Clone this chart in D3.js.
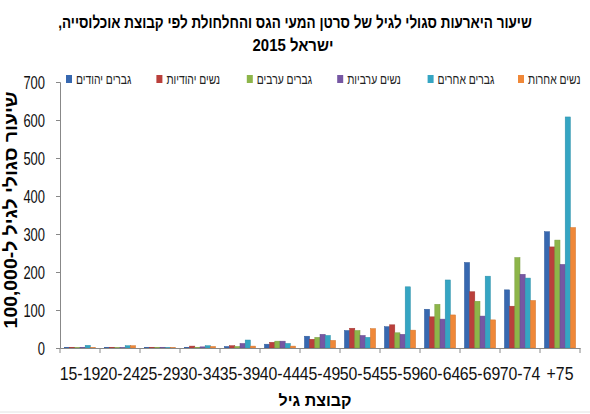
<!DOCTYPE html>
<html><head><meta charset="utf-8">
<script src="https://cdn.jsdelivr.net/npm/d3@7"></script>
<style>body{margin:0;background:#fff} svg{display:block}</style>
</head><body><svg id="c" width="590" height="414"></svg>
<script>
const categories = ["15-19","20-24","25-29","30-34","35-39","40-44","45-49","50-54","55-59","60-64","65-69","70-74","+75"];
const seriesNames = ["גברים יהודים","נשים יהודיות","גברים ערבים","נשים ערביות","גברים אחרים","נשים אחרות"];
const seriesColors = ["#3768B0","#BA3F3B","#8DB54A","#7657A3","#35A5C3","#F08838"];
const jewishMen   = [2,2,2,2,4,10,31,46,56,102,225,153,306];
const jewishWomen = [2,2,2,5,6,15,23,52,61,82,148,110,266];
const arabMen     = [1,1,2,2,4,18,28,46,40,115,123,238,284];
const arabWomen   = [2,1,2,3,12,18,36,33,36,76,84,194,220];
const otherMen    = [7,6,1,6,21,12,33,28,161,179,189,184,608];
const otherWomen  = [1,6,1,4,5,5,20,51,47,87,74,125,317];
const yTicks = [0,100,200,300,400,500,600,700];
const titleLines = ["שיעור היארעות סגולי לגיל של סרטן המעי הגס והחלחולת לפי קבוצת אוכלוסייה,","ישראל 2015"];
const yTitle = "שיעור סגולי לגיל ל-100,000";
const xTitle = "קבוצת גיל";

const seriesValues = [jewishMen, jewishWomen, arabMen, arabWomen, otherMen, otherWomen];
const svg = d3.select("#c");
const mLeft = 60, mRight = 580, mTop = 82, mBottom = 348;

const x0 = d3.scaleBand().domain(categories).range([mLeft, mRight]).padding(0);
const x1 = d3.scaleBand().domain(d3.range(seriesNames.length)).range([0, x0.bandwidth()]).paddingInner(0).paddingOuter(0.85);
const y = d3.scaleLinear().domain([0, 700]).range([mBottom, mTop]);

// fit a text to a target width with a horizontal scale
function fitText(sel, cx, cy, target, rotate) {
  const len = sel.node().getComputedTextLength();
  const s = target / len;
  sel.attr("transform", `translate(${cx},${cy})${rotate ? " rotate(-90)" : ""} scale(${s},1)`);
}

// title
const t1 = svg.append("text").attr("text-anchor","middle").attr("direction","rtl")
  .attr("font-family","Liberation Sans, Arial, sans-serif").attr("font-weight","bold").attr("font-size",17)
  .text(titleLines[0]);
fitText(t1, 295, 28, 474);
const t2 = svg.append("text").attr("text-anchor","middle").attr("direction","rtl")
  .attr("font-family","Liberation Sans, Arial, sans-serif").attr("font-weight","bold").attr("font-size",17)
  .text(titleLines[1]);
fitText(t2, 293, 51, 81);

// bars
const groups = svg.append("g").selectAll("g").data(categories).join("g")
  .attr("transform", d => `translate(${x0(d)},0)`);
groups.selectAll("rect").data((c, ci) => seriesValues.map((s, si) => ({si, v: s[ci]}))).join("rect")
  .attr("x", d => x1(d.si)).attr("width", x1.bandwidth())
  .attr("y", d => y(d.v)).attr("height", d => y(0) - y(d.v))
  .attr("fill", d => seriesColors[d.si])
  .attr("stroke", d => d3.color(seriesColors[d.si]).darker(0.4)).attr("stroke-width",0.5);

// y axis
const ya = svg.append("g").attr("transform",`translate(${mLeft},0)`)
  .call(d3.axisLeft(y).tickValues(yTicks).tickSize(4).tickFormat(d3.format("d")));
ya.select(".domain").attr("stroke","#888");
ya.selectAll(".tick line").attr("stroke","#888");
ya.selectAll(".tick text").attr("x",null).attr("dy",null).attr("dominant-baseline","central")
  .attr("font-family","Liberation Sans, Arial, sans-serif").attr("font-size",18).attr("fill","#111")
  .attr("transform","translate(-15,0) scale(0.72,1)");

// x axis
const xa = svg.append("g").attr("transform",`translate(0,${mBottom})`)
  .call(d3.axisBottom(x0).tickSize(0).tickPadding(0));
xa.select(".domain").attr("stroke","#888");
xa.selectAll(".tick text").attr("y",null).attr("dy",null)
  .attr("font-family","Liberation Sans, Arial, sans-serif").attr("font-size",18).attr("fill","#111")
  .attr("transform","translate(0,32) scale(0.88,1)");
const bounds = categories.map(c => x0(c)).concat([x0.range()[1]]);
xa.selectAll("line.bt").data(bounds).join("line").attr("class","bt")
  .attr("x1", d => d).attr("x2", d => d).attr("y1",0).attr("y2",5).attr("stroke","#888");

// axis titles
svg.append("text").attr("x", 315).attr("y", 406).attr("text-anchor","middle").attr("direction","rtl")
  .attr("font-family","Liberation Sans, Arial, sans-serif").attr("font-weight","bold").attr("font-size",16)
  .text(xTitle);
const yt = svg.append("text").attr("text-anchor","middle").attr("direction","rtl")
  .attr("font-family","Liberation Sans, Arial, sans-serif").attr("font-weight","bold").attr("font-size",18)
  .attr("dominant-baseline","central").text(yTitle);
fitText(yt, 11, 210, 237, true);

// legend
const lg = svg.append("g").selectAll("g").data(seriesNames).join("g")
  .attr("transform",(d,i) => `translate(${66 + i*90.4},79)`);
lg.append("rect").attr("x",0).attr("y",-4).attr("width",6).attr("height",8).attr("fill",(d,i)=>seriesColors[i]);
lg.append("text").attr("direction","rtl").attr("text-anchor","end").attr("dominant-baseline","central")
  .attr("font-family","Liberation Sans, Arial, sans-serif").attr("font-size",14).attr("fill","#222")
  .attr("transform","translate(10,0) scale(0.74,1)").text(d => d);

// bottom border
svg.append("line").attr("x1",0).attr("x2",590).attr("y1",412).attr("y2",412).attr("stroke","#e2e2e2");
</script></body></html>
